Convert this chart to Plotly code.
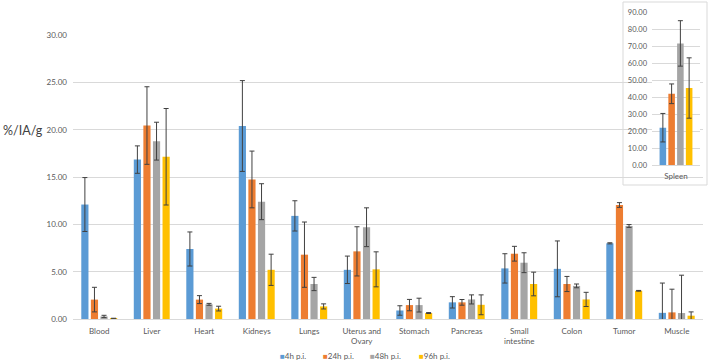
import plotly.graph_objects as go

categories = ["Blood", "Liver", "Heart", "Kidneys", "Lungs", "Uterus and<br>Ovary", "Stomach",
              "Pancreas", "Small<br>intestine", "Colon", "Tumor", "Muscle"]
series_names = ["4h p.i.", "24h p.i.", "48h p.i.", "96h p.i."]

v4 = [12.1, 16.85, 7.4, 20.4, 10.9, 5.2, 0.9, 1.76, 5.35, 5.3, 8.0, 0.65]
e4 = [2.85, 1.45, 1.8, 4.8, 1.6, 1.45, 0.5, 0.6, 1.55, 2.95, 0.06, 3.15]
v24 = [2.05, 20.45, 2.05, 14.75, 6.8, 7.15, 1.47, 1.76, 6.9, 3.7, 12.05, 0.7]
e24 = [1.3, 4.1, 0.42, 3.0, 3.45, 2.6, 0.6, 0.3, 0.78, 0.8, 0.25, 2.45]
v48 = [0.27, 18.8, 1.55, 12.4, 3.7, 9.7, 1.47, 2.07, 5.95, 3.5, 9.83, 0.63]
e48 = [0.12, 2.0, 0.1, 1.9, 0.7, 2.05, 0.73, 0.48, 1.05, 0.2, 0.15, 4.0]
v96 = [0.05, 17.15, 1.1, 5.2, 1.33, 5.25, 0.63, 1.5, 3.7, 2.07, 2.98, 0.35]
e96 = [0.03, 5.1, 0.25, 1.65, 0.27, 1.85, 0.05, 1.05, 1.25, 0.75, 0.04, 0.4]

spleen_category = ["Spleen"]
spleen_values = [22.0, 42.0, 71.7, 45.4]
spleen_errors = [8.4, 5.8, 13.4, 17.8]

colors = ["#5B9BD5", "#ED7D31", "#A5A5A5", "#FFC000"]
values = [v4, v24, v48, v96]
errors = [e4, e24, e48, e96]

FONT = "Lato, 'Liberation Sans', sans-serif"
TXT = "#595959"
GRID = "#D9D9D9"

fig = go.Figure()
for i in range(4):
    fig.add_trace(go.Bar(
        x=categories, y=values[i], name=series_names[i], marker_color=colors[i],
        marker_line_width=0,
        error_y=dict(type="data", array=errors[i], color="#404040", thickness=1, width=2.5),
        xaxis="x", yaxis="y", showlegend=False))
for i in range(4):
    fig.add_trace(go.Bar(
        x=spleen_category, y=[spleen_values[i]], name=series_names[i], marker_color=colors[i],
        marker_line_width=0,
        error_y=dict(type="data", array=[spleen_errors[i]], color="#404040", thickness=1, width=2.5),
        xaxis="x2", yaxis="y2", showlegend=False))

W, H = 709, 362
fig.update_layout(
    width=W, height=H, margin=dict(l=0, r=0, t=0, b=0),
    paper_bgcolor="white", plot_bgcolor="white",
    barmode="group", bargap=0.27, bargroupgap=0.25,
    font=dict(family=FONT, size=8, color=TXT),
    showlegend=False,
    xaxis=dict(domain=[73 / W, 703 / W], showgrid=False, showline=False, ticks="", automargin=False,
               ticklabelstandoff=6, tickfont=dict(size=8, color=TXT), anchor="y"),
    yaxis=dict(domain=[(H - 319) / H, (H - 35) / H], range=[0, 30.02], dtick=5, automargin=False,
               tickformat=".2f", showgrid=True, gridcolor=GRID, gridwidth=1,
               zeroline=True, zerolinecolor=GRID, zerolinewidth=1, showline=False,
               ticks="", ticklabelstandoff=5, tickfont=dict(size=8, color=TXT), anchor="x"),
    xaxis2=dict(domain=[652 / W, 700 / W], showgrid=False, showline=False, ticks="", automargin=False,
                ticklabelstandoff=5, tickfont=dict(size=8, color=TXT), anchor="y2"),
    yaxis2=dict(domain=[(H - 165) / H, (H - 12.3) / H], range=[0, 90.05], dtick=10, automargin=False,
                tickformat=".2f", showgrid=True, gridcolor=GRID, gridwidth=1,
                zeroline=True, zerolinecolor=GRID, zerolinewidth=1, showline=False,
                ticks="", ticklabelstandoff=4, tickfont=dict(size=7.5, color=TXT), anchor="x2"),
)

# Inset frame (drawn under the inset subplot but above the main one)
fig.add_shape(type="rect", xref="x2 domain", yref="y2 domain",
              x0=(623 - 652) / 48, x1=(707 - 652) / 48,
              y0=(165 - 185) / 152.7, y1=(165 - 2) / 152.7,
              fillcolor="white", line=dict(color=GRID, width=1), layer="below")

fig.add_annotation(text="%/IA/g", xref="paper", yref="paper", x=1 / W, y=(H - 130) / H,
                   xanchor="left", yanchor="middle", showarrow=False,
                   font=dict(size=12.5, color="#404040", family=FONT))

legend_x = [278, 321, 368, 417]
for c, n, lx in zip(colors, series_names, legend_x):
    fig.add_annotation(text=f"<span style='color:{c}'>■</span>{n}", xref="paper", yref="paper",
                       x=lx / W, y=(H - 356) / H, xanchor="left", yanchor="middle",
                       showarrow=False, font=dict(size=8, color=TXT, family=FONT))

fig.write_html("out.html", config={"displayModeBar": False},
               post_script="document.body.style.margin='0';document.body.style.overflow='hidden';")
